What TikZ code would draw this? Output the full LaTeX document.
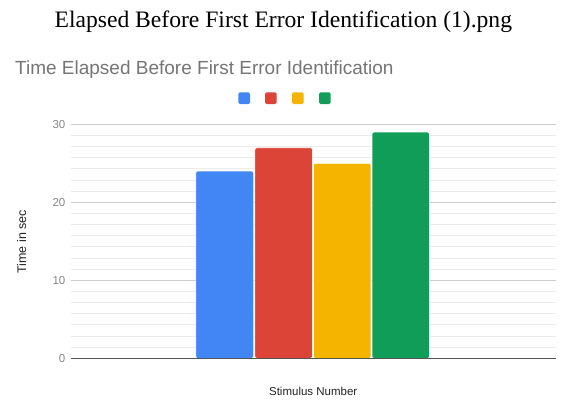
\documentclass[tikz,border=0pt]{standalone}
\usepackage{fontspec}
\setmainfont{Liberation Serif}
\setsansfont{Liberation Sans}
\definecolor{gblue}{HTML}{4285F4}
\definecolor{gred}{HTML}{DB4437}
\definecolor{gyellow}{HTML}{F4B400}
\definecolor{ggreen}{HTML}{0F9D58}
\definecolor{titlegray}{HTML}{757575}
\definecolor{tickgray}{HTML}{858585}
\definecolor{majorgrid}{HTML}{CCCCCC}
\definecolor{minorgrid}{HTML}{EBEBEB}
\definecolor{axisdark}{HTML}{555555}
\definecolor{labeldark}{HTML}{222222}
\begin{document}
\begin{tikzpicture}[x=1pt,y=-1pt,
  bar/.style={rounded corners=1.5pt, draw=white, line width=0.6pt},
  legendsq/.style={rounded corners=1.5pt},
  ticklabel/.style={anchor=east, inner sep=0pt, text=tickgray, font=\sffamily\fontsize{11.5}{12}\selectfont},
  axislabel/.style={inner sep=0pt, text=labeldark, font=\sffamily\fontsize{11}{12}\selectfont},
  majorline/.style={draw=majorgrid, line width=1pt},
  minorline/.style={draw=minorgrid, line width=1pt}]
\useasboundingbox (0,0) rectangle (564,402);
% file title
\node[inner sep=0pt, anchor=base, font=\fontsize{23.6}{26}\selectfont] (filetitle) at (283.3,27.7) {Elapsed Before First Error Identification (1).png};
% chart title
\node[inner sep=0pt, anchor=base west, text=titlegray, font=\sffamily\fontsize{19}{22}\selectfont] (charttitle) at (15,74) {Time Elapsed Before First Error Identification};
% legend
\fill[gblue,legendsq] (238.3,92.3) rectangle +(11.7,11.7);
\fill[gred,legendsq] (265.0,92.3) rectangle +(11.7,11.7);
\fill[gyellow,legendsq] (292.0,92.3) rectangle +(11.7,11.7);
\fill[ggreen,legendsq] (319.0,92.3) rectangle +(11.7,11.7);
% grid
\foreach \k in {1,...,6}{
  \draw[minorline] (71,{358.3-7.8*10*\k/7}) -- (555.7,{358.3-7.8*10*\k/7});
  \draw[minorline] (71,{280.3-7.8*10*\k/7}) -- (555.7,{280.3-7.8*10*\k/7});
  \draw[minorline] (71,{202.3-7.8*10*\k/7}) -- (555.7,{202.3-7.8*10*\k/7});
}
\draw[majorline] (71,280.3) -- (555.7,280.3);
\draw[majorline] (71,202.3) -- (555.7,202.3);
\draw[majorline] (71,124.3) -- (555.7,124.3);
% tick labels
\node[ticklabel] (t0) at (65.5,358.3) {0};
\node[ticklabel] (t10) at (65.5,280.3) {10};
\node[ticklabel] (t20) at (65.5,202.3) {20};
\node[ticklabel] (t30) at (65.5,124.3) {30};
% bars
\fill[gblue,bar] (195.8,358.3) rectangle (253.6,{358.3-7.8*24});
\fill[gred,bar] (254.9,358.3) rectangle (312.4,{358.3-7.8*27});
\fill[gyellow,bar] (313.5,358.3) rectangle (371.0,{358.3-7.8*25});
\fill[ggreen,bar] (372.0,358.3) rectangle (429.5,{358.3-7.8*29});
% baseline
\draw[draw=axisdark, line width=1.5pt] (71,358.3) -- (555.7,358.3);
% axis labels
\node[axislabel, rotate=90, font=\sffamily\fontsize{12.5}{13}\selectfont] (ylabel) at (21.7,241.7) {Time in sec};
\node[axislabel, font=\sffamily\fontsize{11.5}{12}\selectfont] (xlabel) at (313.2,391.7) {Stimulus Number};
\end{tikzpicture}
\end{document}
